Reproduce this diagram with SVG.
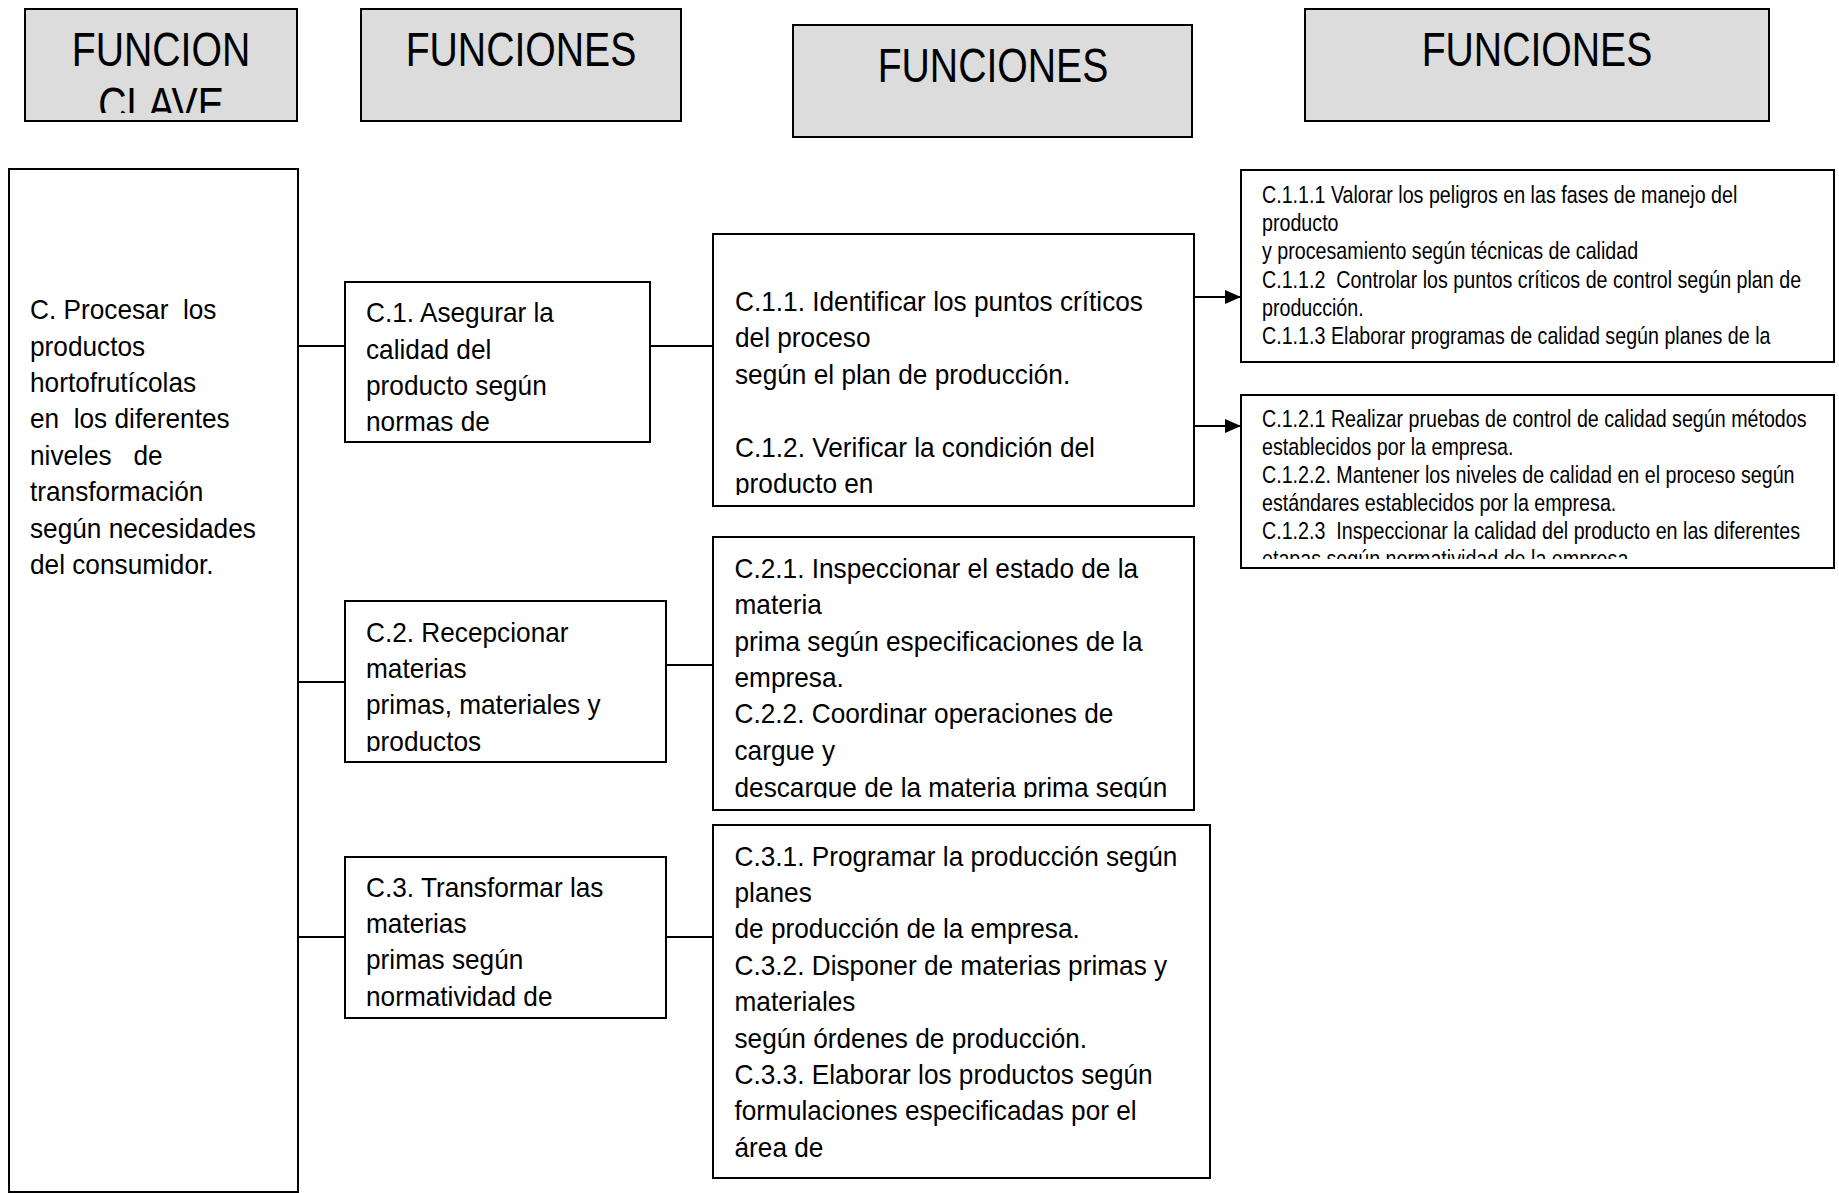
<svg xmlns="http://www.w3.org/2000/svg" width="1839" height="1193" viewBox="0 0 1839 1193">
<style>
.box{fill:#fff;stroke:#000;stroke-width:2}
.hdr{fill:#dcdcdc;stroke:#000;stroke-width:2}
.ht{font-family:"Liberation Sans",Arial,sans-serif;font-size:47.5px;fill:#000;text-anchor:middle}
.bt{font-family:"Liberation Sans",Arial,sans-serif;font-size:28.5px;fill:#000;white-space:pre}
.st{font-family:"Liberation Sans",Arial,sans-serif;font-size:24px;fill:#000;white-space:pre}
.ln{stroke:#000;stroke-width:2;fill:none}
</style>
<defs>
<marker id="ah" markerUnits="userSpaceOnUse" markerWidth="17" markerHeight="14" refX="16" refY="7" orient="auto">
<path d="M0,0 L16,7 L0,14 Z" fill="#000"/>
</marker>
<clipPath id="cH1"><rect x="25" y="9" width="272" height="104"/></clipPath>
<clipPath id="cC11"><rect x="713" y="234" width="481" height="261"/></clipPath>
<clipPath id="cC2"><rect x="345" y="601" width="321" height="151"/></clipPath>
<clipPath id="cC2x"><rect x="713" y="537" width="481" height="261"/></clipPath>
<clipPath id="cR2"><rect x="1241" y="395" width="593" height="164"/></clipPath>
</defs>
<rect width="1839" height="1193" fill="#fff"/>

<g id="hdr1">
<rect class="hdr" x="25" y="9" width="272" height="112"/>
<g clip-path="url(#cH1)"><g transform="translate(161,0) scale(0.825,1)">
<text class="ht" x="0" y="65.7">FUNCION</text>
<text class="ht" x="0" y="121">CLAVE</text>
</g></g>
</g>
<g id="hdr2">
<rect class="hdr" x="361" y="9" width="320" height="112"/>
<g transform="translate(521,0) scale(0.825,1)"><text class="ht" x="0" y="65.7">FUNCIONES</text></g>
</g>
<g id="hdr3">
<rect class="hdr" x="793" y="25" width="399" height="112"/>
<g transform="translate(993,0) scale(0.825,1)"><text class="ht" x="0" y="81.7">FUNCIONES</text></g>
</g>
<g id="hdr4">
<rect class="hdr" x="1305" y="9" width="464" height="112"/>
<g transform="translate(1537,0) scale(0.825,1)"><text class="ht" x="0" y="65.7">FUNCIONES</text></g>
</g>

<g id="connectors">
<line class="ln" x1="298" y1="346" x2="345" y2="346"/>
<line class="ln" x1="650" y1="346" x2="713" y2="346"/>
<line class="ln" x1="298" y1="682" x2="345" y2="682"/>
<line class="ln" x1="666" y1="665" x2="713" y2="665"/>
<line class="ln" x1="298" y1="937" x2="345" y2="937"/>
<line class="ln" x1="666" y1="937" x2="713" y2="937"/>
<line class="ln" x1="1194" y1="297" x2="1241" y2="297" marker-end="url(#ah)"/>
<line class="ln" x1="1194" y1="426" x2="1241" y2="426" marker-end="url(#ah)"/>
</g>

<g id="nodeC">
<rect class="box" x="9" y="169" width="289" height="1023"/>
<g transform="translate(30,0) scale(0.92,1)">
<text class="bt" x="0" y="319.3">C. Procesar  los</text>
<text class="bt" x="0" y="355.7">productos</text>
<text class="bt" x="0" y="392.1">hortofrutícolas</text>
<text class="bt" x="0" y="428.5">en  los diferentes</text>
<text class="bt" x="0" y="464.9">niveles   de</text>
<text class="bt" x="0" y="501.3">transformación</text>
<text class="bt" x="0" y="537.7">según necesidades</text>
<text class="bt" x="0" y="574.1">del consumidor.</text>
</g>
</g>

<g id="nodeC1">
<rect class="box" x="345" y="282" width="305" height="160"/>
<g transform="translate(366,0) scale(0.92,1)">
<text class="bt" x="0" y="322.3">C.1. Asegurar la</text>
<text class="bt" x="0" y="358.7">calidad del</text>
<text class="bt" x="0" y="395.1">producto según</text>
<text class="bt" x="0" y="431.5">normas de</text>
</g>
</g>

<g id="nodeC11">
<rect class="box" x="713" y="234" width="481" height="272"/>
<g clip-path="url(#cC11)"><g transform="translate(735,0) scale(0.92,1)">
<text class="bt" x="0" y="310.7">C.1.1. Identificar los puntos críticos</text>
<text class="bt" x="0" y="347.3">del proceso</text>
<text class="bt" x="0" y="384">según el plan de producción.</text>
<text class="bt" x="0" y="457">C.1.2. Verificar la condición del</text>
<text class="bt" x="0" y="493.3">producto en</text>
</g></g>
</g>

<g id="nodeC2">
<rect class="box" x="345" y="601" width="321" height="161"/>
<g clip-path="url(#cC2)"><g transform="translate(366,0) scale(0.92,1)">
<text class="bt" x="0" y="641.7">C.2. Recepcionar</text>
<text class="bt" x="0" y="678.1">materias</text>
<text class="bt" x="0" y="714.5">primas, materiales y</text>
<text class="bt" x="0" y="750.9">productos</text>
</g></g>
</g>

<g id="nodeC2x">
<rect class="box" x="713" y="537" width="481" height="273"/>
<g clip-path="url(#cC2x)"><g transform="translate(734.5,0) scale(0.92,1)">
<text class="bt" x="0" y="578.3">C.2.1. Inspeccionar el estado de la</text>
<text class="bt" x="0" y="614.5">materia</text>
<text class="bt" x="0" y="650.8">prima según especificaciones de la</text>
<text class="bt" x="0" y="687">empresa.</text>
<text class="bt" x="0" y="723.3">C.2.2. Coordinar operaciones de</text>
<text class="bt" x="0" y="759.8">cargue y</text>
<text class="bt" x="0" y="796.7">descargue de la materia prima según</text>
</g></g>
</g>

<g id="nodeC3">
<rect class="box" x="345" y="857" width="321" height="161"/>
<g transform="translate(366,0) scale(0.92,1)">
<text class="bt" x="0" y="896.7">C.3. Transformar las</text>
<text class="bt" x="0" y="933.1">materias</text>
<text class="bt" x="0" y="969.5">primas según</text>
<text class="bt" x="0" y="1005.9">normatividad de</text>
</g>
</g>

<g id="nodeC3x">
<rect class="box" x="713" y="825" width="497" height="353"/>
<g transform="translate(734.5,0) scale(0.92,1)">
<text class="bt" x="0" y="865.7">C.3.1. Programar la producción según</text>
<text class="bt" x="0" y="902.1">planes</text>
<text class="bt" x="0" y="938.5">de producción de la empresa.</text>
<text class="bt" x="0" y="974.9">C.3.2. Disponer de materias primas y</text>
<text class="bt" x="0" y="1011.3">materiales</text>
<text class="bt" x="0" y="1047.7">según órdenes de producción.</text>
<text class="bt" x="0" y="1084.1">C.3.3. Elaborar los productos según</text>
<text class="bt" x="0" y="1120.5">formulaciones especificadas por el</text>
<text class="bt" x="0" y="1156.9">área de</text>
</g>
</g>

<g id="nodeC11x">
<rect class="box" x="1241" y="170" width="593" height="192"/>
<g transform="translate(1262,0) scale(0.82,1)">
<text class="st" x="0" y="203.3">C.1.1.1 Valorar los peligros en las fases de manejo del</text>
<text class="st" x="0" y="231.4">producto</text>
<text class="st" x="0" y="259.5">y procesamiento según técnicas de calidad</text>
<text class="st" x="0" y="287.6">C.1.1.2  Controlar los puntos críticos de control según plan de</text>
<text class="st" x="0" y="315.7">producción.</text>
<text class="st" x="0" y="343.8">C.1.1.3 Elaborar programas de calidad según planes de la</text>
</g>
</g>

<g id="nodeC12x">
<rect class="box" x="1241" y="395" width="593" height="173"/>
<g clip-path="url(#cR2)"><g transform="translate(1262,0) scale(0.82,1)">
<text class="st" x="0" y="426.7">C.1.2.1 Realizar pruebas de control de calidad según métodos</text>
<text class="st" x="0" y="454.8">establecidos por la empresa.</text>
<text class="st" x="0" y="482.9">C.1.2.2. Mantener los niveles de calidad en el proceso según</text>
<text class="st" x="0" y="511">estándares establecidos por la empresa.</text>
<text class="st" x="0" y="539.1">C.1.2.3  Inspeccionar la calidad del producto en las diferentes</text>
<text class="st" x="0" y="567.2">etapas según normatividad de la empresa.</text>
</g></g>
</g>
</svg>
